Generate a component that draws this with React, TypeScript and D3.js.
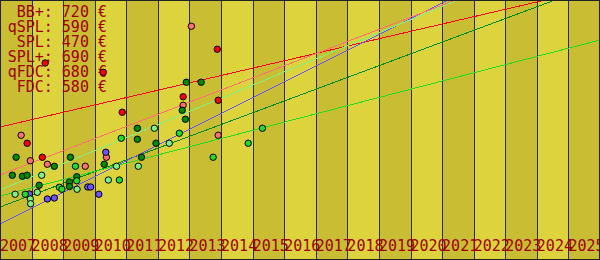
import React from "react";
import * as d3 from "d3";

const W = 600;
const H = 260;

const years = d3.range(2007, 2026);
const legendNames = ["BB+", "qSPL", "SPL", "SPL+", "qFDC", "FDC"];
const legendPrices = [720, 590, 470, 690, 680, 580];

const seriesColors = ["#ff0000", "#ff7070", "#6e55ff", "#008c00", "#22dd22", "#80f080"];

// points: [year, value]
const redPts = [[2008.43, 788], [2010.27, 751], [2013.88, 843], [2012.80, 653], [2013.91, 639], [2010.87, 591], [2007.86, 467], [2008.34, 411]];
const salmonPts = [[2013.06, 935], [2012.80, 619], [2013.91, 499], [2007.67, 499], [2007.96, 397], [2008.50, 383], [2009.70, 375], [2010.37, 411]];
const bluePts = [[2010.35, 431], [2009.78, 292], [2009.87, 292], [2010.13, 263], [2008.50, 244], [2008.72, 248], [2007.93, 264]];
const darkGreenPts = [[2012.90, 711], [2013.37, 711], [2012.77, 599], [2012.87, 563], [2011.35, 527], [2011.35, 483], [2011.94, 467], [2011.48, 411], [2010.30, 383], [2009.23, 411], [2008.72, 375], [2007.51, 411], [2007.39, 339], [2007.71, 335], [2007.86, 339], [2008.24, 299], [2009.20, 312], [2009.20, 294], [2009.43, 333]];
const greenPts = [[2015.31, 527], [2014.86, 467], [2013.75, 411], [2012.68, 507], [2010.84, 487], [2010.78, 320], [2009.39, 375], [2008.88, 291], [2008.96, 283], [2007.80, 263], [2009.43, 317]];
const lightGreenPts = [[2011.89, 527], [2012.36, 467], [2010.69, 375], [2011.38, 375], [2010.43, 320], [2009.44, 283], [2008.32, 339], [2008.18, 271], [2007.48, 263], [2007.96, 244], [2007.97, 225]];

const seriesPoints = [redPts, salmonPts, bluePts, darkGreenPts, greenPts, lightGreenPts];

// trend values at 2007 and 2026
const trendStart = [532, 340, 144, 212, 256, 280];
const trendEnd = [1091, 1262, 1344, 1107, 880, 1276];
// draw order of trend lines
const trendOrder = [0, 3, 4, 2, 1, 5];

export default function App() {
  const x = d3.scaleLinear().domain([2007, 2026]).range([0, W]);
  const y = d3.scaleLinear().domain([0, 1040]).range([H, 0]);
  const line = d3.line<number[]>().x((d) => x(d[0])).y((d) => y(d[1]));

  return (
    <svg
      width={W}
      height={H}
      style={{ position: "absolute", left: 0, top: 0, display: "block" }}
    >
      {years.map((yr, i) => (
        <rect
          key={"b" + yr}
          x={x(yr)}
          y={0}
          width={x(yr + 1) - x(yr)}
          height={H}
          fill={i % 2 === 0 ? "#c9bd33" : "#ddd33d"}
          shapeRendering="crispEdges"
        />
      ))}
      {years.slice(1).map((yr) => (
        <line
          key={"s" + yr}
          x1={Math.round(x(yr)) + 0.5}
          x2={Math.round(x(yr)) + 0.5}
          y1={0}
          y2={H}
          stroke="#2c2c3c"
          strokeWidth={1}
          shapeRendering="crispEdges"
        />
      ))}
      {trendOrder.map((si) => (
        <path
          key={"t" + si}
          d={line([[2007, trendStart[si]], [2026, trendEnd[si]]]) || ""}
          stroke={seriesColors[si]}
          strokeWidth={1}
          fill="none"
          shapeRendering="crispEdges"
        />
      ))}
      {legendNames.map((n, i) => (
        <text
          key={"l" + n}
          x={107}
          y={17 + i * 15}
          textAnchor="end"
          fontFamily="DejaVu Sans Mono"
          fontSize={15}
          fill="#a00000"
        >
          {`${n}: ${legendPrices[i]} €`}
        </text>
      ))}
      {years.map((yr) => (
        <text
          key={"y" + yr}
          x={x(yr)}
          y={251}
          fontFamily="DejaVu Sans Mono"
          fontSize={15}
          fill="#a00000"
        >
          {String(yr)}
        </text>
      ))}
      {seriesPoints.map((pts, si) =>
        pts.map((p, j) => (
          <circle
            key={"p" + si + "-" + j}
            cx={x(p[0])}
            cy={y(p[1])}
            r={3.2}
            fill={seriesColors[si]}
            stroke="#000"
            strokeWidth={1}
          />
        ))
      )}
      <rect x={0.5} y={0.5} width={W - 1} height={H - 1} fill="none" stroke="#222" strokeWidth={1} shapeRendering="crispEdges" />
    </svg>
  );
}
